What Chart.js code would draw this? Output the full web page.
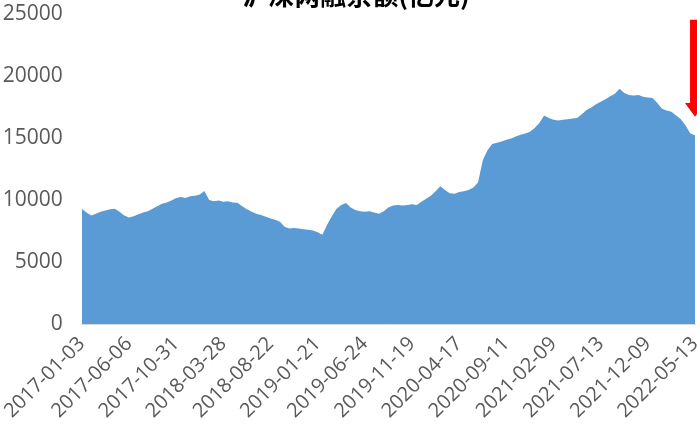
<!DOCTYPE html>
<html>
<head>
<meta charset="utf-8">
<script src="https://cdn.jsdelivr.net/npm/chart.js@4/dist/chart.umd.min.js"></script>
<style>
  html, body { margin: 0; padding: 0; background: #ffffff; overflow: hidden; }
  #frame { width: 697px; height: 428px; position: relative; overflow: hidden; }
  #wrap { width: 720px; height: 449px; position: absolute; left: 0; top: -18px; }
</style>
</head>
<body>
<div id="frame"><div id="wrap"><canvas id="marginChart"></canvas></div></div>
<script>
'use strict';

// Title (its top half is cut off in the source image)
const chartTitle = '沪深两融余额(亿元)';

// X tick labels, one every 10 samples
const tickDates = [
    '2017-01-03', '2017-06-06', '2017-10-31', '2018-03-28', '2018-08-22',
    '2019-01-21', '2019-06-24', '2019-11-19', '2020-04-17', '2020-09-11',
    '2021-02-09', '2021-07-13', '2021-12-09', '2022-05-13'
];

// Margin balance (亿元), read off roughly every 10 trading days
const balance = [
    9300, 9000, 8750, 8900, 9050, 9150, 9250, 9300, 9050, 8750,
    8600, 8700, 8850, 9000, 9100, 9300, 9500, 9700, 9800, 9950,
    10150, 10250, 10150, 10300, 10350, 10450, 10720, 10000, 9900, 9950,
    9850, 9900, 9800, 9780, 9500, 9250, 9050, 8900, 8800, 8650,
    8500, 8400, 8250, 7850, 7700, 7750, 7700, 7650, 7600, 7550,
    7400, 7200, 8000, 8700, 9300, 9600, 9750, 9400, 9200, 9100,
    9050, 9100, 9000, 8900, 9100, 9400, 9550, 9600, 9550, 9600,
    9650, 9600, 9850, 10100, 10350, 10700, 11100, 10800, 10550, 10500,
    10650, 10700, 10800, 11000, 11400, 13200, 14000, 14500, 14600, 14700,
    14850, 14950, 15100, 15250, 15350, 15500, 15800, 16200, 16800, 16600,
    16450, 16400, 16450, 16500, 16550, 16600, 16900, 17250, 17450, 17700,
    17900, 18100, 18350, 18550, 18950, 18600, 18450, 18400, 18450, 18300,
    18250, 18200, 17800, 17350, 17200, 17100, 16800, 16500, 16000, 15350,
    15200
];

// Y axis range
const yMin = 0;
const yMax = 25000;
const yStep = 5000;

const textGray = '#595959';
const areaBlue = '#5B9BD5';

// Title + red down arrow at the right edge
const annotate = {
    id: 'annotate',
    afterDraw(chart) {
        const ctx = chart.ctx;
        const x = chart.scales.x;
        const y = chart.scales.y;
        ctx.save();

        ctx.fillStyle = '#000000';
        ctx.font = 'bold 26px "Noto Sans CJK SC", sans-serif';
        ctx.textAlign = 'center';
        ctx.textBaseline = 'alphabetic';
        ctx.fillText(chartTitle, 356, 23);

        const ax = x.getPixelForValue(balance.length - 1);
        const top = y.getPixelForValue(24500);
        const neck = y.getPixelForValue(17800);
        const tip = y.getPixelForValue(16700);
        ctx.fillStyle = '#FF0000';
        ctx.beginPath();
        ctx.moveTo(ax - 5, top);
        ctx.lineTo(ax + 5, top);
        ctx.lineTo(ax + 5, neck);
        ctx.lineTo(ax + 10, neck);
        ctx.lineTo(ax, tip);
        ctx.lineTo(ax - 10, neck);
        ctx.lineTo(ax - 5, neck);
        ctx.closePath();
        ctx.fill();
        ctx.restore();
    }
};

const ctx = document.getElementById('marginChart');
new Chart(ctx, {
    type: 'line',
    data: {
        labels: balance.map(function (v, i) { return i; }),
        datasets: [{
            label: chartTitle,
            data: balance,
            borderWidth: 0,
            borderColor: areaBlue,
            backgroundColor: areaBlue,
            pointRadius: 0,
            tension: 0,
            fill: 'origin'
        }]
    },
    options: {
        responsive: true,
        maintainAspectRatio: false,
        animation: false,
        layout: { padding: 0 },
        plugins: {
            legend: { display: false },
            tooltip: { enabled: false }
        },
        scales: {
            x: {
                offset: false,
                grid: { display: false, drawTicks: false },
                border: { display: true, color: '#D9D9D9', width: 1 },
                ticks: {
                    autoSkip: false,
                    maxRotation: 45,
                    minRotation: 45,
                    padding: 8,
                    color: textGray,
                    font: { family: '"Open Sans", sans-serif', size: 20 },
                    callback: function (value, index) {
                        return index % 10 === 0 ? tickDates[index / 10] : null;
                    }
                }
            },
            y: {
                min: yMin,
                max: yMax,
                afterFit: function (scale) { scale.width = 81; },
                grid: { display: false, drawTicks: false },
                border: { display: false },
                ticks: {
                    stepSize: yStep,
                    padding: 19,
                    color: textGray,
                    font: { family: '"Open Sans", sans-serif', size: 21 },
                    callback: function (value) { return String(value); }
                }
            }
        }
    },
    plugins: [annotate]
});
</script>
</body>
</html>
